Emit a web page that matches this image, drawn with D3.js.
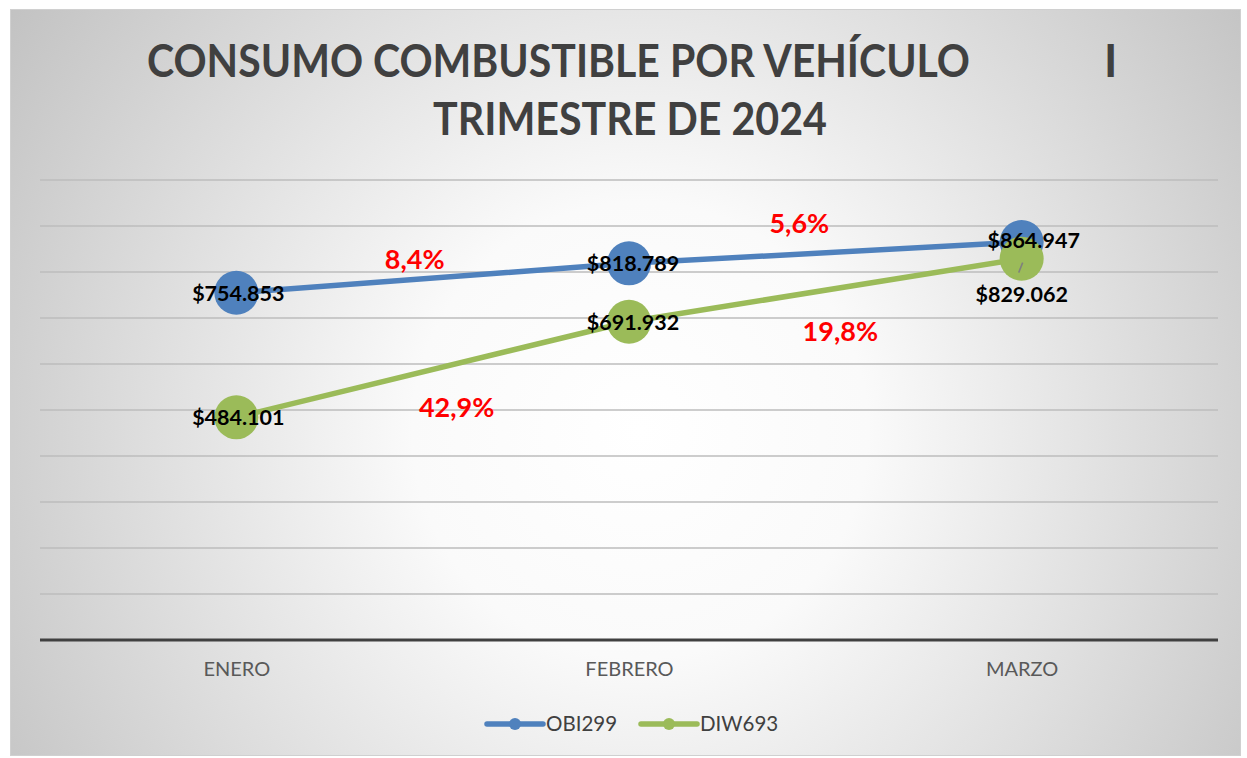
<!DOCTYPE html>
<html>
<head>
	<meta charset="utf-8">
	<style>
		body { margin: 0; background: #fff; }
		text { font-family: Lato, "Open Sans", sans-serif; }
	</style>
</head>
<body>
	<div id="chart"></div>

	<script src="https://cdnjs.cloudflare.com/ajax/libs/d3/7.8.5/d3.min.js"></script>

	<script>
		const categories = ['ENERO', 'FEBRERO', 'MARZO'];
		const obi299 = [754853, 818789, 864947];
		const diw693 = [484101, 691932, 829062];
		const obiGrowth = ['8,4%', '5,6%'];
		const diwGrowth = ['42,9%', '19,8%'];
		const yTicks = [0, 100000, 200000, 300000, 400000, 500000, 600000, 700000, 800000, 900000, 1000000];

		const W = 1247, H = 758;
		const plot = { left: 40, right: 1218, top: 180, bottom: 640 };

		const fmt = v => '$' + d3.format(',')(v).replace(/,/g, '.');

		const svg = d3.select('#chart').append('svg')
			.attr('width', W).attr('height', H);

		const defs = svg.append('defs');
		const grad = defs.append('radialGradient')
			.attr('id', 'bg')
			.attr('gradientUnits', 'userSpaceOnUse')
			.attr('cx', 640).attr('cy', 430).attr('r', 760);
		grad.append('stop').attr('offset', '0').attr('stop-color', '#ffffff');
		grad.append('stop').attr('offset', '0.3').attr('stop-color', '#fafafa');
		grad.append('stop').attr('offset', '1').attr('stop-color', '#c2c2c2');

		svg.append('rect')
			.attr('x', 10.5).attr('y', 9.5)
			.attr('width', 1230).attr('height', 746)
			.attr('fill', 'url(#bg)')
			.attr('stroke', '#d0d0d0');

		const x = d3.scalePoint()
			.domain(categories)
			.range([plot.left, plot.right])
			.padding(0.5);

		const y = d3.scaleLinear()
			.domain([0, 1000000])
			.range([plot.bottom, plot.top]);

		// gridlines
		svg.append('g')
			.selectAll('line')
			.data(yTicks.slice(1))
			.join('line')
			.attr('x1', plot.left).attr('x2', plot.right)
			.attr('y1', d => y(d)).attr('y2', d => y(d))
			.attr('stroke', '#bcbcbc')
			.attr('stroke-width', 1.5);

		// x axis
		const xAxis = d3.axisBottom(x).tickSize(0).tickPadding(22);
		const gx = svg.append('g')
			.attr('transform', `translate(0, ${plot.bottom})`)
			.call(xAxis);
		gx.select('.domain')
			.attr('d', `M${plot.left},0H${plot.right}`)
			.attr('stroke', '#404040')
			.attr('stroke-width', 3);
		gx.selectAll('text')
			.attr('fill', '#595959')
			.style('font-size', '20px')
			.style('font-family', 'Lato, sans-serif');

		// title
		const title = svg.append('text')
			.attr('fill', '#404040')
			.style('font-size', '45px')
			.style('font-weight', 'bold');
		title.append('tspan').attr('x', 147).attr('y', 77)
			.attr('textLength', 823).attr('lengthAdjust', 'spacingAndGlyphs')
			.text('CONSUMO COMBUSTIBLE POR VEHÍCULO');
		title.append('tspan').attr('x', 1104).attr('y', 77).text('I');
		title.append('tspan').attr('x', 630).attr('y', 135)
			.attr('text-anchor', 'middle')
			.attr('textLength', 394).attr('lengthAdjust', 'spacingAndGlyphs')
			.text('TRIMESTRE DE 2024');

		const line = d3.line()
			.x((d, i) => x(categories[i]))
			.y(d => y(d));

		const series = [
			{ name: 'OBI299', values: obi299, color: '#4f81bd' },
			{ name: 'DIW693', values: diw693, color: '#9bbb59' }
		];

		series.forEach(s => {
			svg.append('path')
				.attr('d', line(s.values))
				.attr('fill', 'none')
				.attr('stroke', s.color)
				.attr('stroke-width', 5.5)
				.attr('stroke-linecap', 'round');
			svg.append('g')
				.selectAll('circle')
				.data(s.values)
				.join('circle')
				.attr('cx', (d, i) => x(categories[i]))
				.attr('cy', d => y(d))
				.attr('r', 22)
				.attr('fill', s.color);
		});

		// leader line on last green label
		const mx = x(categories[2]), my = y(diw693[2]);
		svg.append('line')
			.attr('x1', mx - 3).attr('y1', my + 14)
			.attr('x2', mx + 1).attr('y2', my + 4)
			.attr('stroke', '#7f7f7f').attr('stroke-width', 1.5);

		// data labels
		const labelOffsets = {
			OBI299: [[2, 8], [4, 8], [12, 6]],
			DIW693: [[2, 8], [4, 8], [0, 43]]
		};
		series.forEach(s => {
			svg.append('g')
				.selectAll('text')
				.data(s.values)
				.join('text')
				.attr('x', (d, i) => x(categories[i]) + labelOffsets[s.name][i][0])
				.attr('y', (d, i) => y(d) + labelOffsets[s.name][i][1])
				.attr('text-anchor', 'middle')
				.attr('fill', '#000')
				.style('font-size', '21.5px')
				.style('font-weight', 'bold')
				.text(fmt);
		});

		// growth annotations, placed near each segment midpoint
		const growthLabels = [
			{ vals: obi299, texts: obiGrowth, offs: [[-18, -9], [-26, -20]] },
			{ vals: diw693, texts: diwGrowth, offs: [[24, 47], [15, 51]] }
		];
		growthLabels.forEach(g => {
			g.texts.forEach((t, i) => {
				const cx = (x(categories[i]) + x(categories[i + 1])) / 2;
				const cy = (y(g.vals[i]) + y(g.vals[i + 1])) / 2;
				svg.append('text')
					.attr('x', cx + g.offs[i][0])
					.attr('y', cy + g.offs[i][1])
					.attr('text-anchor', 'middle')
					.attr('fill', '#ff0000')
					.style('font-size', '27px')
					.style('font-weight', 'bold')
					.text(t);
			});
		});

		// legend
		const legend = svg.append('g').attr('transform', 'translate(0, 724)');
		const legendX = [487, 641];
		series.forEach((s, i) => {
			const g = legend.append('g').attr('transform', `translate(${legendX[i]}, 0)`);
			g.append('line')
				.attr('x1', 0).attr('x2', 56)
				.attr('stroke', s.color).attr('stroke-width', 5.5)
				.attr('stroke-linecap', 'round');
			g.append('circle').attr('cx', 28).attr('r', 6).attr('fill', s.color);
			g.append('text')
				.attr('x', 59).attr('y', 7)
				.attr('fill', '#404040')
				.style('font-size', '20.5px')
				.text(s.name);
		});
	</script>
</body>
</html>
